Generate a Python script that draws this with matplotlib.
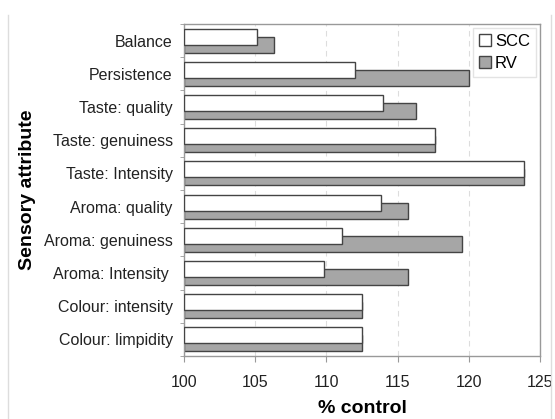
import numpy as np
import matplotlib
matplotlib.use("Agg")
from matplotlib import pyplot as plt
from matplotlib.patches import Patch

plt.rcParams['font.family'] = ['Liberation Sans', 'DejaVu Sans']

# categories from top to bottom
attributes = ['Balance', 'Persistence', 'Taste: quality', 'Taste: genuiness',
              'Taste: Intensity', 'Aroma: quality', 'Aroma: genuiness',
              'Aroma: Intensity ', 'Colour: intensity', 'Colour: limpidity']
scc = [105.1, 112.0, 114.0, 117.6, 123.9, 113.8, 111.1, 109.8, 112.5, 112.5]
rv = [106.3, 120.0, 116.3, 117.6, 123.9, 115.7, 119.5, 115.7, 112.5, 112.5]
xticks = [100, 105, 110, 115, 120, 125]

n = len(attributes)
y = np.arange(n)

fig = plt.figure(figsize=(5.55, 4.19), dpi=100)
ax = fig.add_axes([0.3315, 0.1504, 0.6415, 0.7923])

edge = '#444444'
# RV first so SCC bars sit on top of them
ax.barh(y + 0.12, np.array(rv) - 100, left=100, height=0.48,
        color='#a6a6a6', edgecolor=edge, linewidth=1.0, zorder=2)
ax.barh(y - 0.12, np.array(scc) - 100, left=100, height=0.48,
        color='white', edgecolor=edge, linewidth=1.0, zorder=3)

ax.set_xlim(100, 125)
ax.set_ylim(n - 0.5, -0.5)
ax.set_xticks(xticks)
ax.set_xticklabels([str(t) for t in xticks], fontsize=11.5, color='#222222')
ax.set_yticks(y)
ax.set_yticklabels(attributes, fontsize=11.5, color='#222222')
ax.tick_params(axis='y', length=0, pad=8)
ax.set_yticks(np.arange(n + 1) - 0.5, minor=True)
ax.tick_params(axis='y', which='minor', length=3, color='#999999')
ax.tick_params(axis='x', length=4, color='#999999', pad=10)

ax.xaxis.grid(True, linestyle=(0, (5, 4)), color='#dddddd', linewidth=0.8, zorder=0)
ax.set_axisbelow(True)
for s in ax.spines.values():
    s.set_color('#999999')
    s.set_linewidth(1.0)

ax.set_xlabel('% control', fontsize=14, fontweight='bold', labelpad=7)
ax.set_ylabel('Sensory attribute', fontsize=14, fontweight='bold', labelpad=6)

handles = [Patch(facecolor='white', edgecolor=edge, label='SCC'),
           Patch(facecolor='#a6a6a6', edgecolor=edge, label='RV')]
leg = ax.legend(handles=handles, loc='upper right', fontsize=12,
                handlelength=0.7, handleheight=0.7, handletextpad=0.25,
                fancybox=False, borderaxespad=0.25, borderpad=0.35,
                labelspacing=0.4)
leg.get_frame().set_edgecolor('#dddddd')
leg.get_frame().set_linewidth(1.0)

# page edges
fig.add_artist(plt.Line2D([0.015, 0.015], [0.0, 0.964], color='#dddddd', lw=1))
fig.add_artist(plt.Line2D([0.993, 0.993], [0.0, 0.964], color='#dddddd', lw=1))

fig.savefig('out.png', dpi=100)
